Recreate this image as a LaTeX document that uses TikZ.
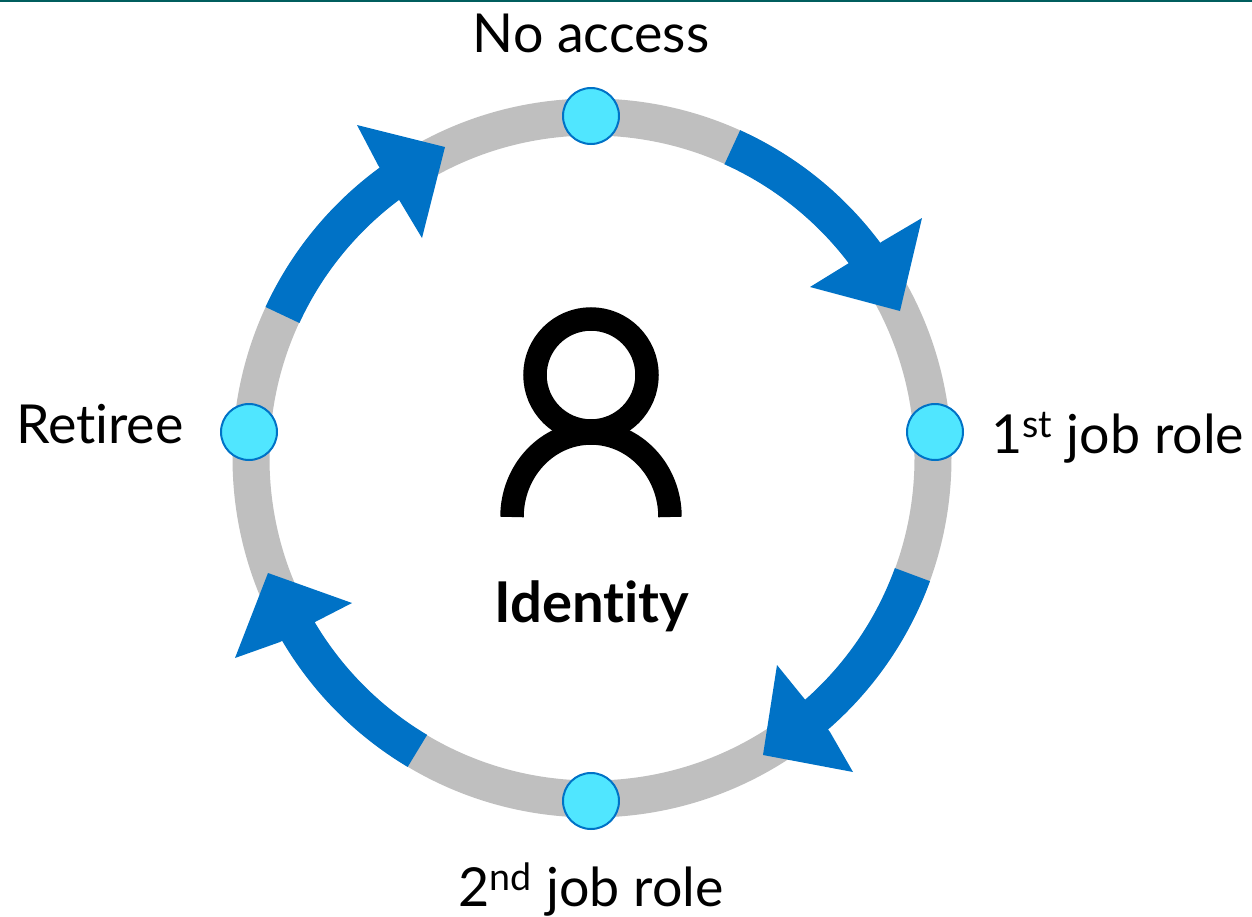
\documentclass[tikz,border=0pt]{standalone}
\usepackage{fontspec}
\setmainfont[Ligatures=NoCommon]{Lato}
\definecolor{ringgray}{HTML}{BFBFBF}
\definecolor{arrowblue}{HTML}{0072C6}
\definecolor{dotfill}{HTML}{50E6FF}
\definecolor{barteal}{HTML}{005E5E}
\tikzstyle{ring}=[draw=ringgray,line width=0.74cm]
\tikzstyle{shaft}=[draw=arrowblue,line width=0.75cm]
\tikzstyle{head}=[fill=arrowblue]
\tikzstyle{stage}=[circle,draw=arrowblue,line width=0.04cm,fill=dotfill,minimum size=1.12cm,inner sep=0pt]
\tikzstyle{stagetext}=[anchor=base,inner sep=0pt,font=\fontsize{30.6}{38}\selectfont]
\tikzstyle{person}=[draw=black,line width=0.47cm]

\begin{document}
\begin{tikzpicture}[x=0.02cm,y=0.02cm]
            \useasboundingbox (0,0) rectangle (1252,-917);
            \fill[barteal] (0,0) rectangle (1252,-2);

            % RING PART

            \coordinate (ctr) at (592,-458);
            \draw[ring] (ctr) circle (341);

            % ARROW PART

            \draw[shaft] (ctr) ++(65.7:341) arc (65.7:36:341);
            \fill[head] (900,-311) -- (922,-218) -- (883,-241) -- (849,-263) -- (810,-287) -- cycle;

            \draw[shaft] (ctr) ++(-20:341) arc (-20:-50:341);
            \fill[head] (763,-755) -- (777,-665) -- (807,-702) -- (830,-732) -- (853,-772) -- cycle;

            \draw[shaft] (ctr) ++(239.2:341) arc (239.2:209:341);
            \fill[head] (268,-573) -- (352,-603) -- (315,-622) -- (280,-642) -- (235,-658) -- cycle;

            \draw[shaft] (ctr) ++(155.2:341) arc (155.2:125:341);
            \fill[head] (445,-147) -- (357,-125) -- (378,-165) -- (398,-198) -- (422,-238) -- cycle;

            % STAGE PART

            \node[stage] (noaccess) at (591,-116) {};
            \node[stage] (firstrole) at (935,-432) {};
            \node[stage] (secondrole) at (591,-801) {};
            \node[stage] (retiree) at (249,-432) {};

            \node[stagetext] (noaccesstext) at (591,-52) {No access};
            \node[stagetext,anchor=base west] (firstroletext) at (991,-453) {1\textsuperscript{st} job role};
            \node[stagetext] (secondroletext) at (591,-906) {2\textsuperscript{nd} job role};
            \node[stagetext,anchor=base east] (retireetext) at (184,-443) {Retiree};

            % PERSON PART

            \draw[person] (591,-375) circle (56);
            \draw[person] (512,-517) arc (180:0:79 and 84);
            \node[stagetext,font=\fontsize{32}{38}\selectfont\bfseries] (identity) at (592,-622) {Identity};

        \end{tikzpicture}
\end{document}
